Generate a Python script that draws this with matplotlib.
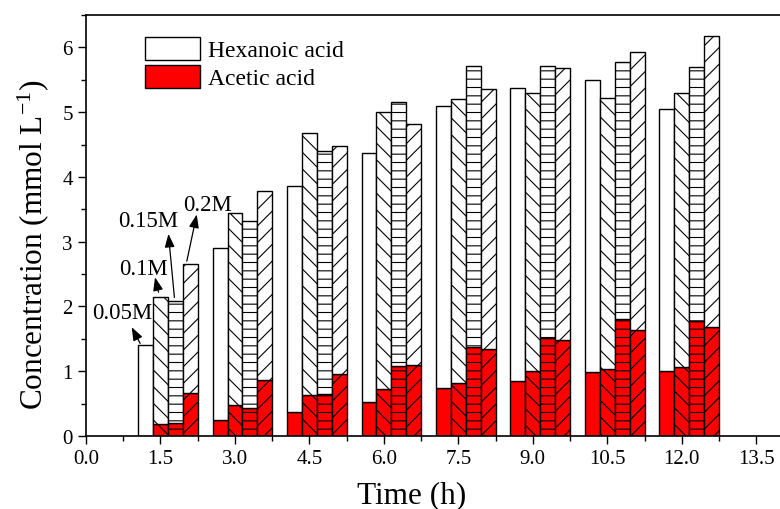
import matplotlib
matplotlib.use('Agg')
import matplotlib.pyplot as plt
from matplotlib.patches import Patch
from matplotlib.ticker import MultipleLocator, FormatStrFormatter
import numpy as np

plt.rcParams['font.family'] = 'Liberation Serif'
plt.rcParams['mathtext.fontset'] = 'custom'
plt.rcParams['mathtext.rm'] = 'Liberation Serif'
plt.rcParams['mathtext.default'] = 'regular'
plt.rcParams['hatch.linewidth'] = 0.8

time_h = np.array([1.5, 3.0, 4.5, 6.0, 7.5, 9.0, 10.5, 12.0])
conc_labels = ['0.05M', '0.1M', '0.15M', '0.2M']
hatches = ['', '\\\\', '--', '//']

# acetic acid (bottom of each stack)
acetic_005 = [0.00, 0.25, 0.37, 0.53, 0.74, 0.85, 0.99, 1.01]
acetic_01 = [0.19, 0.48, 0.64, 0.72, 0.82, 1.01, 1.03, 1.06]
acetic_015 = [0.20, 0.44, 0.65, 1.08, 1.38, 1.52, 1.80, 1.77]
acetic_02 = [0.67, 0.86, 0.95, 1.10, 1.34, 1.48, 1.64, 1.68]

# hexanoic acid (stacked on top)
hexanoic_005 = [1.40, 2.65, 3.49, 3.84, 4.36, 4.53, 4.51, 4.04]
hexanoic_01 = [1.96, 2.97, 4.04, 4.29, 4.39, 4.29, 4.19, 4.24]
hexanoic_015 = [1.89, 2.88, 3.75, 4.07, 4.33, 4.20, 3.97, 3.93]
hexanoic_02 = [1.98, 2.92, 3.53, 3.71, 4.02, 4.20, 4.29, 4.50]

acetic = [acetic_005, acetic_01, acetic_015, acetic_02]
hexanoic = [hexanoic_005, hexanoic_01, hexanoic_015, hexanoic_02]

fig = plt.figure(figsize=(7.8, 5.1), dpi=100)
ax = fig.add_axes([0.1103, 0.1431, 0.891, 0.8255])

width = 0.3
offsets = [-0.3, 0.0, 0.3, 0.6]
for i in range(4):
    x = time_h + offsets[i]
    ax.bar(x, acetic[i], width, color='red', edgecolor='black',
           linewidth=1.0, hatch=hatches[i])
    ax.bar(x, hexanoic[i], width, bottom=acetic[i], color='white',
           edgecolor='black', linewidth=1.0, hatch=hatches[i])

# labels for the first group
arrow = dict(arrowstyle='-|>,head_length=0.8,head_width=0.3', color='black',
             lw=0.9, shrinkA=0, shrinkB=0)
ax.text(0.735, 1.90, '0.05M', fontsize=16.5, ha='center', va='center')
ax.annotate('', xy=(0.92, 1.68), xytext=(1.09, 1.43), arrowprops=arrow)
ax.text(1.155, 2.58, '0.1M', fontsize=16.5, ha='center', va='center')
ax.annotate('', xy=(1.39, 2.45), xytext=(1.46, 2.22), arrowprops=arrow)
ax.text(1.255, 3.32, '0.15M', fontsize=16.5, ha='center', va='center')
ax.annotate('', xy=(1.66, 3.12), xytext=(1.78, 2.14), arrowprops=arrow)
ax.text(2.45, 3.58, '0.2M', fontsize=16.5, ha='center', va='center')
ax.annotate('', xy=(2.23, 3.42), xytext=(2.03, 2.70), arrowprops=arrow)

ax.set_xlim(0, 14)
ax.set_ylim(0, 6.5)
ax.xaxis.set_major_locator(MultipleLocator(1.5))
ax.xaxis.set_minor_locator(MultipleLocator(0.75))
ax.xaxis.set_major_formatter(FormatStrFormatter('%.1f'))
ax.yaxis.set_major_locator(MultipleLocator(1))
ax.yaxis.set_minor_locator(MultipleLocator(0.5))
ax.tick_params(which='both', direction='out', width=1.0, labelsize=15)
ax.tick_params(which='major', length=6)
ax.tick_params(which='minor', length=3.5)
ax.spines['right'].set_visible(False)
for s in ['left', 'bottom', 'top']:
    ax.spines[s].set_linewidth(1.2)

ax.set_xlabel('Time (h)', fontsize=22.5, labelpad=9)
ax.xaxis.label.set_x(0.469)
ax.set_ylabel(r'Concentration (mmol L$^{-1}$)', fontsize=22.5)
ax.yaxis.set_label_coords(-0.051, 0.456)

handles = [Patch(facecolor='white', edgecolor='black', label='Hexanoic acid'),
           Patch(facecolor='red', edgecolor='black', label='Acetic acid')]
ax.legend(handles=handles, loc='upper left', bbox_to_anchor=(145 / 780, 1 - 38 / 510),
          bbox_transform=fig.transFigure, frameon=False, fontsize=17,
          handlelength=2.35, handleheight=1.1, handletextpad=0.3,
          labelspacing=0.15, borderpad=0, borderaxespad=0)

fig.savefig('out.png', dpi=100)
